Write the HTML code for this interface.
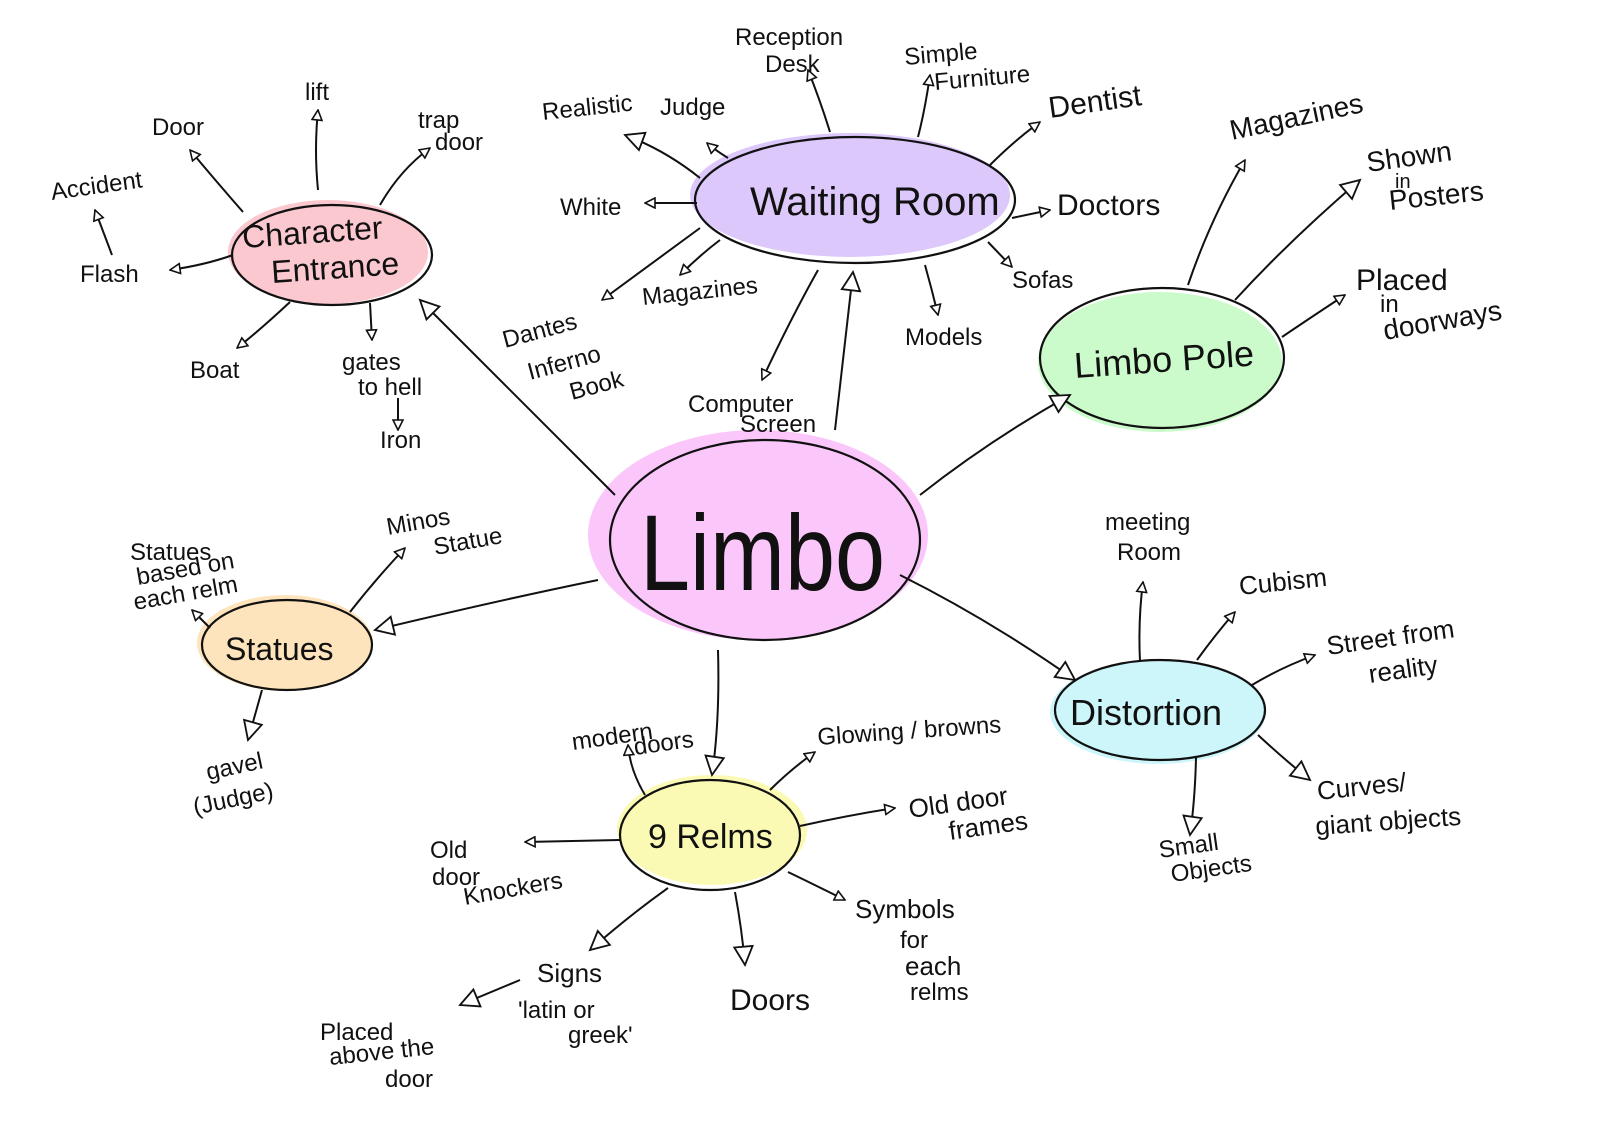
<!DOCTYPE html>
<html><head><meta charset="utf-8"><style>
html,body{margin:0;padding:0;background:#fff}
svg{display:block}
text{font-family:"Liberation Sans",sans-serif;fill:#111}
</style></head><body>
<svg width="1600" height="1131" viewBox="0 0 1600 1131" xmlns="http://www.w3.org/2000/svg">
<defs>
<marker id="a" viewBox="0 0 12 12" refX="11" refY="6" markerWidth="12" markerHeight="12" markerUnits="userSpaceOnUse" orient="auto">
<path d="M1,1 L11,6 L1,11 Z" fill="#fff" stroke="#111" stroke-width="1.6"/>
</marker>
<marker id="b" viewBox="0 0 12 12" refX="11" refY="6" markerWidth="22" markerHeight="22" markerUnits="userSpaceOnUse" orient="auto">
<path d="M1,1 L11,6 L1,11 Z" fill="#fff" stroke="#111" stroke-width="1"/>
</marker>
</defs>
<!-- fills -->
<ellipse cx="758" cy="535" rx="170" ry="105" fill="#fbc7fb"/>
<ellipse cx="328" cy="252" rx="100" ry="52" fill="#fbc8d0"/>
<ellipse cx="850" cy="195" rx="160" ry="62" fill="#dcc8fb"/>
<ellipse cx="1160" cy="362" rx="122" ry="70" fill="#cbfacb"/>
<ellipse cx="285" cy="643" rx="88" ry="48" fill="#fde4bc"/>
<ellipse cx="712" cy="830" rx="95" ry="55" fill="#fbfab4"/>
<ellipse cx="1158" cy="712" rx="108" ry="52" fill="#cdf6fb"/>
<g fill="none" stroke="#111" stroke-width="2.2">
<ellipse cx="765" cy="540" rx="155" ry="100"/>
<ellipse cx="332" cy="255" rx="100" ry="50"/>
<ellipse cx="855" cy="200" rx="160" ry="63"/>
<ellipse cx="1162" cy="358" rx="122" ry="70"/>
<ellipse cx="287" cy="645" rx="85" ry="45"/>
<ellipse cx="710" cy="835" rx="90" ry="55"/>
<ellipse cx="1160" cy="710" rx="105" ry="50"/>
</g>
<g fill="none" stroke="#111" stroke-width="2">
<!-- Limbo main -->
<path d="M615,495 Q540,420 420,300" marker-end="url(#b)"/>
<path d="M835,430 L853,272" marker-end="url(#b)"/>
<path d="M920,495 Q990,440 1070,395" marker-end="url(#b)"/>
<path d="M598,580 Q500,600 375,630" marker-end="url(#b)"/>
<path d="M718,650 Q720,720 712,775" marker-end="url(#b)"/>
<path d="M900,575 Q990,620 1075,680" marker-end="url(#b)"/>
<!-- Character Entrance -->
<path d="M243,212 Q215,180 190,150" marker-end="url(#a)"/>
<path d="M318,190 Q314,150 318,110" marker-end="url(#a)"/>
<path d="M380,205 Q400,170 430,148" marker-end="url(#a)"/>
<path d="M233,255 Q205,265 170,270" marker-end="url(#a)"/>
<path d="M112,255 L95,210" marker-end="url(#a)"/>
<path d="M290,302 Q260,330 237,348" marker-end="url(#a)"/>
<path d="M370,303 L372,340" marker-end="url(#a)"/>
<path d="M398,398 L398,430" marker-end="url(#a)"/>
<!-- Waiting room -->
<path d="M700,178 Q665,150 625,135" marker-end="url(#b)"/>
<path d="M728,158 Q715,150 707,143" marker-end="url(#a)"/>
<path d="M697,203 L645,203" marker-end="url(#a)"/>
<path d="M700,228 Q650,265 602,300" marker-end="url(#a)"/>
<path d="M720,240 Q700,255 680,275" marker-end="url(#a)"/>
<path d="M818,270 Q790,320 762,380" marker-end="url(#a)"/>
<path d="M830,132 Q820,100 808,70" marker-end="url(#a)"/>
<path d="M918,137 Q925,110 930,75" marker-end="url(#a)"/>
<path d="M990,165 Q1015,140 1040,122" marker-end="url(#a)"/>
<path d="M1012,218 L1050,210" marker-end="url(#a)"/>
<path d="M988,242 L1012,267" marker-end="url(#a)"/>
<path d="M925,265 Q932,290 938,315" marker-end="url(#a)"/>
<!-- Limbo pole -->
<path d="M1188,285 Q1210,220 1245,160" marker-end="url(#a)"/>
<path d="M1235,300 Q1290,240 1360,180" marker-end="url(#b)"/>
<path d="M1282,337 Q1310,318 1345,295" marker-end="url(#a)"/>
<!-- Statues -->
<path d="M210,628 L192,610" marker-end="url(#a)"/>
<path d="M350,612 Q375,580 405,548" marker-end="url(#a)"/>
<path d="M262,690 L248,740" marker-end="url(#b)"/>
<!-- 9 Relms -->
<path d="M645,795 Q630,770 628,745" marker-end="url(#a)"/>
<path d="M770,790 Q790,770 815,752" marker-end="url(#a)"/>
<path d="M800,826 Q850,815 895,808" marker-end="url(#a)"/>
<path d="M620,840 L525,842" marker-end="url(#a)"/>
<path d="M788,872 Q815,885 845,900" marker-end="url(#a)"/>
<path d="M735,892 Q742,930 745,965" marker-end="url(#b)"/>
<path d="M668,888 Q630,915 590,950" marker-end="url(#b)"/>
<path d="M520,980 L460,1005" marker-end="url(#b)"/>
<!-- Distortion -->
<path d="M1140,662 Q1138,620 1143,582" marker-end="url(#a)"/>
<path d="M1197,660 Q1215,635 1235,612" marker-end="url(#a)"/>
<path d="M1252,685 Q1280,668 1315,655" marker-end="url(#a)"/>
<path d="M1258,735 Q1285,760 1310,780" marker-end="url(#b)"/>
<path d="M1196,758 Q1195,800 1190,835" marker-end="url(#b)"/>
</g>
<!-- central labels -->
<text x="640" y="590" font-size="108" textLength="245" lengthAdjust="spacingAndGlyphs">Limbo</text>
<text x="243" y="248" font-size="32" transform="rotate(-4 243 248)">Character</text>
<text x="272" y="283" font-size="32" transform="rotate(-4 272 283)">Entrance</text>
<text x="750" y="215" font-size="40">Waiting Room</text>
<text x="1075" y="378" font-size="36" transform="rotate(-4 1075 378)">Limbo Pole</text>
<text x="225" y="660" font-size="32">Statues</text>
<text x="648" y="848" font-size="34">9  Relms</text>
<text x="1070" y="725" font-size="36">Distortion</text>
<g font-size="24">
<text x="152" y="135">Door</text>
<text x="305" y="100">lift</text>
<text x="418" y="128">trap</text><text x="435" y="150">door</text>
<text x="52" y="200" transform="rotate(-8 52 200)">Accident</text>
<text x="80" y="282">Flash</text>
<text x="190" y="378">Boat</text>
<text x="342" y="370">gates</text><text x="358" y="395">to hell</text>
<text x="380" y="448">Iron</text>
<text x="543" y="120" transform="rotate(-6 543 120)">Realistic</text>
<text x="660" y="115">Judge</text>
<text x="560" y="215">White</text>
<text x="505" y="348" transform="rotate(-15 505 348)">Dantes</text>
<text x="530" y="380" transform="rotate(-15 530 380)">Inferno</text>
<text x="572" y="400" transform="rotate(-15 572 400)">Book</text>
<text x="643" y="305" transform="rotate(-6 643 305)">Magazines</text>
<text x="688" y="412">Computer</text><text x="740" y="432">Screen</text>
<text x="735" y="45">Reception</text><text x="765" y="72">Desk</text>
<text x="905" y="65" transform="rotate(-5 905 65)">Simple</text>
<text x="935" y="90" transform="rotate(-5 935 90)">Furniture</text>
<text x="1050" y="118" font-size="30" transform="rotate(-8 1050 118)">Dentist</text>
<text x="1057" y="215" font-size="30">Doctors</text>
<text x="1012" y="288">Sofas</text>
<text x="905" y="345">Models</text>
<text x="1232" y="140" font-size="28" transform="rotate(-12 1232 140)">Magazines</text>
<text x="1368" y="172" font-size="28" transform="rotate(-8 1368 172)">Shown</text>
<text x="1395" y="188" font-size="20">in</text>
<text x="1390" y="210" font-size="28" transform="rotate(-6 1390 210)">Posters</text>
<text x="1356" y="290" font-size="30">Placed</text>
<text x="1380" y="312" font-size="24">in</text>
<text x="1385" y="340" font-size="28" transform="rotate(-10 1385 340)">doorways</text>
<text x="130" y="560">Statues</text>
<text x="138" y="585" transform="rotate(-10 138 585)">based on</text>
<text x="135" y="610" transform="rotate(-10 135 610)">each relm</text>
<text x="388" y="535" transform="rotate(-10 388 535)">Minos</text>
<text x="435" y="555" transform="rotate(-10 435 555)">Statue</text>
<text x="208" y="780" transform="rotate(-12 208 780)">gavel</text>
<text x="195" y="815" transform="rotate(-12 195 815)">(Judge)</text>
<text x="573" y="750" transform="rotate(-8 573 750)">modern</text>
<text x="635" y="755" transform="rotate(-8 635 755)">doors</text>
<text x="818" y="745" transform="rotate(-4 818 745)">Glowing / browns</text>
<text x="910" y="818" font-size="26" transform="rotate(-8 910 818)">Old door</text>
<text x="950" y="840" font-size="26" transform="rotate(-8 950 840)">frames</text>
<text x="430" y="858">Old</text>
<text x="432" y="885">door</text>
<text x="465" y="905" transform="rotate(-10 465 905)">Knockers</text>
<text x="855" y="918" font-size="26">Symbols</text>
<text x="900" y="948">for</text>
<text x="905" y="975" font-size="26">each</text>
<text x="910" y="1000">relms</text>
<text x="537" y="982" font-size="26">Signs</text>
<text x="518" y="1018">'latin or</text>
<text x="568" y="1043">greek'</text>
<text x="730" y="1010" font-size="30">Doors</text>
<text x="320" y="1040">Placed</text>
<text x="330" y="1065" transform="rotate(-6 330 1065)">above the</text>
<text x="385" y="1087">door</text>
<text x="1105" y="530">meeting</text>
<text x="1117" y="560">Room</text>
<text x="1240" y="595" font-size="26" transform="rotate(-6 1240 595)">Cubism</text>
<text x="1328" y="655" font-size="26" transform="rotate(-8 1328 655)">Street  from</text>
<text x="1370" y="683" font-size="26" transform="rotate(-8 1370 683)">reality</text>
<text x="1318" y="800" font-size="26" transform="rotate(-6 1318 800)">Curves/</text>
<text x="1316" y="835" font-size="26" transform="rotate(-4 1316 835)">giant objects</text>
<text x="1160" y="858" transform="rotate(-8 1160 858)">Small</text>
<text x="1172" y="882" transform="rotate(-8 1172 882)">Objects</text>
</g>
</svg>
</body></html>
